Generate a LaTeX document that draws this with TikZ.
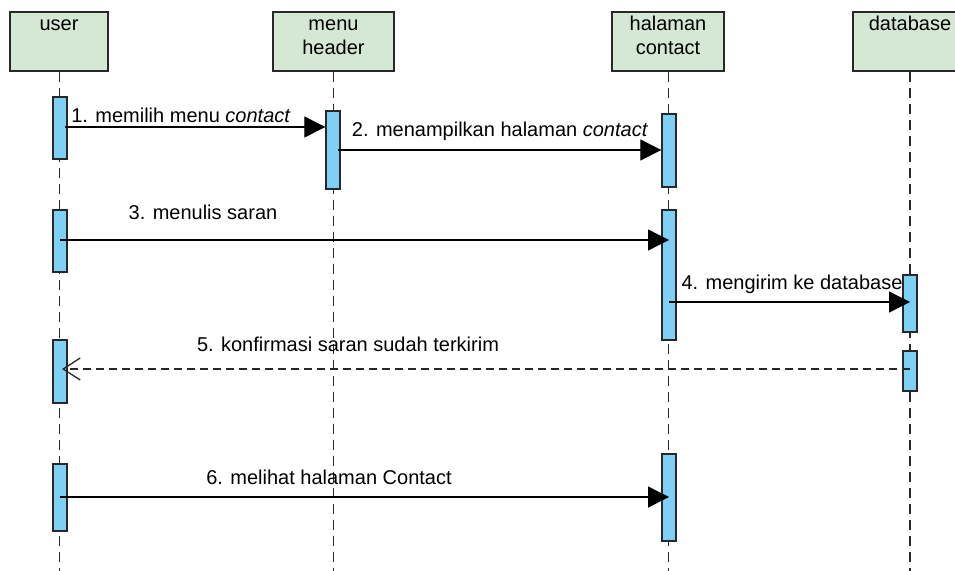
\documentclass[tikz,border=0pt]{standalone}
\usepackage{fontspec}
\setmainfont{Liberation Sans}
\usetikzlibrary{arrows.meta}
\definecolor{headfill}{RGB}{213,232,212}
\definecolor{barfill}{RGB}{127,208,245}
\definecolor{ink}{RGB}{40,40,40}
\tikzset{
  head/.style={draw=ink, line width=1.6pt, fill=headfill, minimum height=59pt, inner sep=0pt},
  actbar/.style={draw=ink, line width=1.4pt, fill=barfill, minimum width=14pt, inner sep=0pt},
  lifeline/.style={draw=ink, line width=1.7pt, dash pattern=on 10pt off 6pt},
  msg/.style={draw=black, line width=1.3pt, -{Triangle[length=21pt,width=21pt]}},
  reply/.style={draw=ink, line width=1.3pt, dash pattern=on 8pt off 5pt, -{Straight Barb[length=17pt,width=22pt,line width=1.3pt]}},
  lbl/.style={anchor=base, inner sep=0pt, font=\fontsize{20}{24}\selectfont},
  htxt/.style={anchor=base, inner sep=0pt, align=center, font=\fontsize{20}{24}\selectfont}
}
\begin{document}
\begin{tikzpicture}[x=1pt,y=-1pt]
\clip (0,0) rectangle (955,570);
\fill[white] (0,0) rectangle (955,570);
% headers
\node[head, minimum width=98pt] (user) at (59,41.5) {};
\node[head, minimum width=121pt] (menu) at (333.5,41.5) {};
\node[head, minimum width=112pt] (hal) at (668,41.5) {};
\node[head, minimum width=114pt] (db) at (910,41.5) {};
\node[htxt] (tu) at (59,30) {user};
\node[htxt] (tm) at (333.5,54) {menu\\header};
\node[htxt] (th) at (668,54) {halaman\\contact};
\node[htxt] (td) at (910,30) {database};
% lifelines
\coordinate (ue) at (59.5,575);
\coordinate (me) at (333.5,575);
\coordinate (he) at (668.5,575);
\coordinate (de) at (910,575);
\draw[lifeline] (user.south -| ue) -- (ue);
\draw[lifeline] (menu.south -| me) -- (me);
\draw[lifeline] (hal.south -| he) -- (he);
\draw[lifeline] (db.south -| de) -- (de);
% activation bars
\node[actbar, minimum height=62pt] (u1) at (60,128) {};
\node[actbar, minimum height=62pt] (u2) at (60,241) {};
\node[actbar, minimum height=63pt] (u3) at (60,371.5) {};
\node[actbar, minimum height=67pt] (u4) at (60,497.5) {};
\node[actbar, minimum height=78pt] (m1) at (333,150) {};
\node[actbar, minimum height=73pt] (h1) at (669,150.5) {};
\node[actbar, minimum height=130pt] (h2) at (669,275) {};
\node[actbar, minimum height=87pt] (h3) at (669,497.5) {};
\node[actbar, minimum height=57pt] (d1) at (910,303.5) {};
\node[actbar, minimum height=40pt] (d2) at (910,371) {};
% messages
\draw[msg] ([xshift=5pt]u1.center |- 0,127) -- (m1.west |- 0,127);
\node[lbl] (l1) at (181,122) {1. memilih menu \textit{contact}};
\draw[msg] ([xshift=5pt]m1.center |- 0,150) -- (h1.west |- 0,150);
\node[lbl] (l2) at (500,136) {2. menampilkan halaman \textit{contact}};
\draw[msg] (u2.center |- 0,240) -- (h2.center |- 0,240);
\node[lbl] (l3) at (203,219) {3. menulis saran};
\draw[msg] (h2.center |- 0,302) -- (d1.center |- 0,302);
\node[lbl] (l4) at (792,289) {4. mengirim ke database};
\draw[reply] (d2.center |- 0,369) -- ([xshift=2pt]u3.center |- 0,369);
\node[lbl] (l5) at (348,351) {5. konfirmasi saran sudah terkirim};
\draw[msg] (u4.center |- 0,497) -- (h3.center |- 0,497);
\node[lbl] (l6) at (329,484) {6. melihat halaman Contact};
\end{tikzpicture}
\end{document}
